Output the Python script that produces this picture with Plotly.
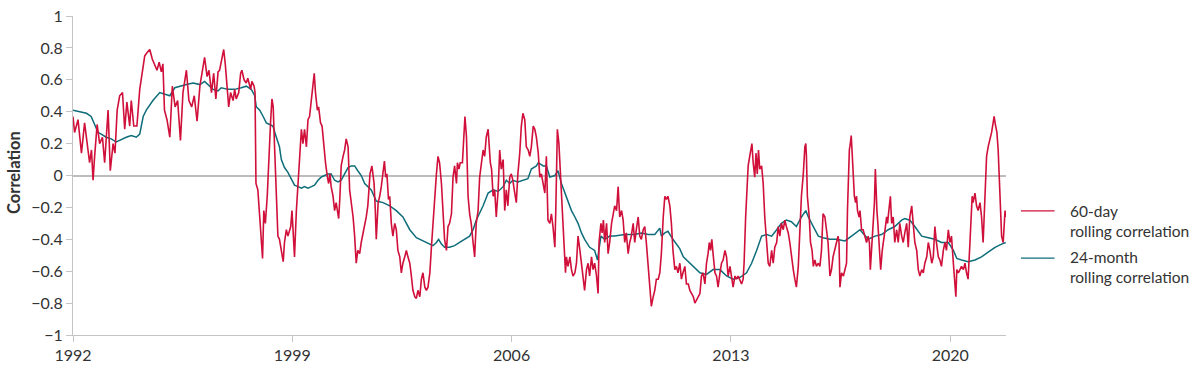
import plotly.graph_objects as go

# 60-day rolling correlation (decimal year, correlation)
red_year = [
    1992.00, 1992.05, 1992.16, 1992.27, 1992.37, 1992.45, 1992.53, 1992.59, 1992.64, 1992.69,
    1992.77, 1992.85, 1992.94, 1993.01, 1993.12, 1993.19, 1993.28, 1993.34, 1993.41, 1993.49,
    1993.58, 1993.65, 1993.72, 1993.81, 1993.86, 1993.94, 1994.04, 1994.13, 1994.21, 1994.29,
    1994.36, 1994.45, 1994.53, 1994.61, 1994.68, 1994.75, 1994.82, 1994.87, 1994.92, 1995.00,
    1995.09, 1995.17, 1995.26, 1995.34, 1995.43, 1995.51, 1995.62, 1995.70, 1995.79, 1995.87,
    1995.96, 1996.05, 1996.13, 1996.20, 1996.28, 1996.34, 1996.42, 1996.49, 1996.56, 1996.63,
    1996.68, 1996.75, 1996.81, 1996.86, 1996.92, 1996.97, 1997.03, 1997.11, 1997.16, 1997.21,
    1997.29, 1997.35, 1997.39, 1997.46, 1997.53, 1997.58, 1997.67, 1997.71, 1997.78, 1997.81,
    1997.84, 1997.90, 1997.96, 1998.01, 1998.05, 1998.09, 1998.14, 1998.20, 1998.25, 1998.31,
    1998.35, 1998.39, 1998.43, 1998.49, 1998.54, 1998.59, 1998.65, 1998.71, 1998.75, 1998.81,
    1998.86, 1998.95, 1998.99, 1999.03, 1999.07, 1999.13, 1999.18, 1999.23, 1999.29, 1999.34,
    1999.39, 1999.45, 1999.50, 1999.55, 1999.61, 1999.66, 1999.70, 1999.74, 1999.80, 1999.84,
    1999.90, 1999.95, 2000.01, 2000.06, 2000.12, 2000.16, 2000.20, 2000.24, 2000.30, 2000.35,
    2000.40, 2000.48, 2000.52, 2000.56, 2000.62, 2000.67, 2000.72, 2000.78, 2000.83, 2000.88,
    2000.94, 2000.99, 2001.04, 2001.09, 2001.15, 2001.20, 2001.29, 2001.36, 2001.41, 2001.48,
    2001.54, 2001.61, 2001.65, 2001.68, 2001.74, 2001.79, 2001.84, 2001.90, 2001.94, 2001.98,
    2002.02, 2002.07, 2002.11, 2002.16, 2002.21, 2002.27, 2002.32, 2002.37, 2002.43, 2002.48,
    2002.53, 2002.59, 2002.64, 2002.69, 2002.75, 2002.80, 2002.85, 2002.91, 2002.96, 2003.01,
    2003.07, 2003.12, 2003.17, 2003.23, 2003.28, 2003.33, 2003.39, 2003.44, 2003.49, 2003.54,
    2003.60, 2003.65, 2003.70, 2003.76, 2003.81, 2003.86, 2003.92, 2003.97, 2004.02, 2004.08,
    2004.13, 2004.18, 2004.24, 2004.27, 2004.32, 2004.36, 2004.43, 2004.48, 2004.51, 2004.56,
    2004.61, 2004.66, 2004.71, 2004.77, 2004.82, 2004.87, 2004.93, 2004.98, 2005.03, 2005.09,
    2005.14, 2005.19, 2005.25, 2005.28, 2005.32, 2005.36, 2005.41, 2005.46, 2005.51, 2005.57,
    2005.62, 2005.67, 2005.73, 2005.78, 2005.83, 2005.88, 2005.94, 2005.99, 2006.04, 2006.10,
    2006.15, 2006.20, 2006.26, 2006.31, 2006.36, 2006.42, 2006.47, 2006.53, 2006.58, 2006.63,
    2006.69, 2006.74, 2006.79, 2006.85, 2006.90, 2006.95, 2007.01, 2007.06, 2007.11, 2007.16,
    2007.22, 2007.27, 2007.32, 2007.38, 2007.41, 2007.44, 2007.46, 2007.51, 2007.55, 2007.59,
    2007.64, 2007.68, 2007.72, 2007.75, 2007.80, 2007.86, 2007.91, 2007.96, 2008.02, 2008.07,
    2008.12, 2008.18, 2008.23, 2008.28, 2008.33, 2008.39, 2008.44, 2008.49, 2008.55, 2008.60,
    2008.65, 2008.71, 2008.76, 2008.79, 2008.85, 2008.89, 2008.93, 2008.97, 2009.03, 2009.08,
    2009.13, 2009.19, 2009.24, 2009.29, 2009.35, 2009.40, 2009.45, 2009.51, 2009.56, 2009.61,
    2009.66, 2009.72, 2009.77, 2009.82, 2009.88, 2009.93, 2009.98, 2010.04, 2010.09, 2010.14,
    2010.20, 2010.25, 2010.30, 2010.36, 2010.41, 2010.46, 2010.52, 2010.57, 2010.62, 2010.68,
    2010.73, 2010.78, 2010.84, 2010.89, 2010.94, 2010.99, 2011.05, 2011.10, 2011.15, 2011.21,
    2011.26, 2011.31, 2011.37, 2011.42, 2011.47, 2011.53, 2011.58, 2011.64, 2011.69, 2011.74,
    2011.80, 2011.85, 2011.90, 2011.96, 2012.01, 2012.06, 2012.11, 2012.17, 2012.22, 2012.27,
    2012.31, 2012.35, 2012.39, 2012.43, 2012.49, 2012.54, 2012.59, 2012.65, 2012.70, 2012.75,
    2012.81, 2012.86, 2012.91, 2012.97, 2013.02, 2013.07, 2013.13, 2013.18, 2013.23, 2013.28,
    2013.34, 2013.39, 2013.42, 2013.47, 2013.50, 2013.55, 2013.60, 2013.64, 2013.67, 2013.71,
    2013.76, 2013.80, 2013.84, 2013.88, 2013.92, 2013.98, 2014.03, 2014.08, 2014.14, 2014.19,
    2014.24, 2014.30, 2014.35, 2014.40, 2014.46, 2014.51, 2014.56, 2014.61, 2014.67, 2014.72,
    2014.77, 2014.83, 2014.88, 2014.93, 2014.99, 2015.04, 2015.09, 2015.15, 2015.20, 2015.25,
    2015.31, 2015.36, 2015.39, 2015.41, 2015.44, 2015.50, 2015.54, 2015.59, 2015.63, 2015.68,
    2015.73, 2015.79, 2015.84, 2015.89, 2015.94, 2016.00, 2016.05, 2016.10, 2016.16, 2016.21,
    2016.26, 2016.32, 2016.37, 2016.42, 2016.45, 2016.48, 2016.53, 2016.59, 2016.64, 2016.69,
    2016.72, 2016.75, 2016.78, 2016.81, 2016.84, 2016.87, 2016.91, 2016.94, 2016.98, 2017.01,
    2017.04, 2017.09, 2017.12, 2017.15, 2017.17, 2017.22, 2017.28, 2017.33, 2017.38, 2017.42,
    2017.45, 2017.49, 2017.54, 2017.58, 2017.61, 2017.63, 2017.66, 2017.69, 2017.73, 2017.78,
    2017.83, 2017.87, 2017.92, 2017.97, 2018.00, 2018.04, 2018.09, 2018.13, 2018.18, 2018.23,
    2018.29, 2018.34, 2018.39, 2018.45, 2018.50, 2018.55, 2018.61, 2018.66, 2018.71, 2018.77,
    2018.80, 2018.83, 2018.87, 2018.93, 2018.98, 2019.03, 2019.09, 2019.14, 2019.19, 2019.25,
    2019.30, 2019.35, 2019.41, 2019.46, 2019.51, 2019.56, 2019.62, 2019.67, 2019.72, 2019.78,
    2019.83, 2019.88, 2019.94, 2019.99, 2020.04, 2020.10, 2020.15, 2020.18, 2020.21, 2020.26,
    2020.31, 2020.36, 2020.42, 2020.47, 2020.52, 2020.57, 2020.63, 2020.66, 2020.70, 2020.73,
    2020.79, 2020.84, 2020.89, 2020.95, 2021.00, 2021.05, 2021.09, 2021.13, 2021.16, 2021.21,
    2021.27, 2021.32, 2021.37, 2021.40, 2021.45, 2021.49, 2021.53, 2021.57, 2021.60, 2021.64,
    2021.69, 2021.72, 2021.75, 2021.77,
]
red_val = [
    0.37, 0.27, 0.35, 0.14, 0.33, 0.20, 0.08, 0.16, -0.03, 0.12,
    0.32, 0.20, 0.24, 0.08, 0.41, 0.03, 0.20, 0.14, 0.41, 0.50,
    0.52, 0.29, 0.46, 0.31, 0.47, 0.31, 0.31, 0.54, 0.66, 0.75,
    0.77, 0.79, 0.73, 0.69, 0.66, 0.71, 0.65, 0.70, 0.41, 0.35,
    0.24, 0.56, 0.43, 0.47, 0.22, 0.52, 0.66, 0.47, 0.43, 0.50,
    0.34, 0.56, 0.66, 0.74, 0.62, 0.66, 0.52, 0.64, 0.48, 0.65,
    0.66, 0.73, 0.79, 0.70, 0.52, 0.43, 0.52, 0.47, 0.54, 0.48,
    0.52, 0.64, 0.66, 0.60, 0.58, 0.61, 0.54, 0.59, 0.56, 0.52,
    -0.05, -0.09, -0.26, -0.42, -0.52, -0.22, -0.30, -0.13, 0.12, 0.35,
    0.48, 0.43, 0.20, -0.07, -0.38, -0.40, -0.47, -0.54, -0.42, -0.34,
    -0.38, -0.32, -0.22, -0.34, -0.51, -0.22, -0.05, 0.12, 0.29, 0.20,
    0.29, 0.18, 0.35, 0.37, 0.47, 0.58, 0.64, 0.52, 0.41, 0.43,
    0.33, 0.31, 0.16, 0.08, -0.01, -0.05, 0.01, -0.07, -0.13, -0.22,
    -0.17, -0.27, -0.13, 0.06, 0.12, 0.16, 0.23, 0.18, -0.09, -0.17,
    -0.26, -0.38, -0.55, -0.47, -0.49, -0.42, -0.34, -0.26, -0.19, 0.01,
    0.06, -0.05, -0.22, -0.40, -0.17, -0.13, -0.07, 0.01, 0.09, -0.01,
    0.01, -0.15, -0.13, -0.30, -0.38, -0.30, -0.34, -0.47, -0.51, -0.61,
    -0.55, -0.51, -0.47, -0.51, -0.55, -0.63, -0.72, -0.76, -0.77, -0.72,
    -0.76, -0.65, -0.61, -0.70, -0.72, -0.70, -0.61, -0.45, -0.30, -0.13,
    0.01, 0.12, 0.08, -0.05, -0.22, -0.40, -0.47, -0.32, -0.30, -0.24,
    -0.01, 0.06, -0.05, 0.08, 0.04, 0.08, 0.08, 0.24, 0.37, 0.24,
    -0.13, -0.24, -0.30, -0.42, -0.51, -0.30, -0.22, -0.01, 0.08, 0.16,
    0.12, 0.24, 0.29, 0.18, 0.08, 0.04, -0.13, -0.09, -0.26, -0.09,
    0.16, 0.04, 0.10, -0.22, -0.09, -0.19, -0.01, 0.01, -0.03, -0.11,
    -0.17, 0.01, 0.14, 0.31, 0.39, 0.35, 0.18, 0.16, 0.12, 0.18,
    0.31, 0.29, 0.24, 0.14, -0.01, 0.01, -0.07, -0.11, 0.12, -0.28,
    -0.30, -0.24, -0.32, -0.45, -0.22, 0.14, 0.29, 0.20, 0.04, -0.17,
    -0.32, -0.53, -0.61, -0.51, -0.57, -0.51, -0.59, -0.63, -0.61, -0.55,
    -0.38, -0.47, -0.55, -0.61, -0.72, -0.59, -0.55, -0.63, -0.51, -0.59,
    -0.55, -0.63, -0.74, -0.42, -0.30, -0.36, -0.28, -0.42, -0.30, -0.49,
    -0.42, -0.30, -0.24, -0.19, -0.22, -0.07, -0.26, -0.22, -0.28, -0.42,
    -0.36, -0.49, -0.42, -0.38, -0.30, -0.42, -0.34, -0.26, -0.38, -0.40,
    -0.34, -0.32, -0.42, -0.59, -0.74, -0.82, -0.76, -0.72, -0.65, -0.65,
    -0.61, -0.49, -0.26, -0.13, -0.15, -0.13, -0.19, -0.30, -0.47, -0.59,
    -0.57, -0.61, -0.55, -0.65, -0.61, -0.57, -0.68, -0.68, -0.72, -0.74,
    -0.76, -0.80, -0.78, -0.76, -0.74, -0.63, -0.61, -0.68, -0.55, -0.49,
    -0.42, -0.47, -0.40, -0.49, -0.61, -0.63, -0.70, -0.61, -0.55, -0.53,
    -0.47, -0.51, -0.63, -0.57, -0.65, -0.70, -0.63, -0.65, -0.63, -0.65,
    -0.68, -0.65, -0.55, -0.26, -0.11, 0.06, 0.12, 0.18, 0.20, 0.08,
    -0.01, 0.14, 0.01, 0.16, 0.04, 0.06, -0.05, -0.26, -0.40, -0.55,
    -0.57, -0.47, -0.55, -0.45, -0.42, -0.32, -0.38, -0.30, -0.34, -0.28,
    -0.32, -0.36, -0.42, -0.51, -0.59, -0.65, -0.70, -0.57, -0.36, -0.13,
    0.01, 0.18, 0.20, 0.12, -0.13, -0.26, -0.42, -0.47, -0.57, -0.53,
    -0.57, -0.55, -0.57, -0.47, -0.24, -0.26, -0.34, -0.42, -0.63, -0.59,
    -0.51, -0.47, -0.42, -0.38, -0.42, -0.70, -0.61, -0.63, -0.59, -0.55,
    -0.22, 0.08, 0.16, 0.20, 0.25, 0.14, -0.05, -0.13, -0.17, -0.13,
    -0.22, -0.26, -0.22, -0.30, -0.34, -0.34, -0.38, -0.42, -0.38, -0.42,
    -0.59, -0.47, -0.26, -0.17, 0.04, -0.13, -0.22, -0.30, -0.42, -0.59,
    -0.47, -0.42, -0.34, -0.26, -0.30, -0.22, -0.13, -0.30, -0.26, -0.42,
    -0.34, -0.42, -0.30, -0.38, -0.42, -0.36, -0.30, -0.45, -0.26, -0.19,
    -0.26, -0.30, -0.42, -0.47, -0.59, -0.63, -0.59, -0.61, -0.55, -0.51,
    -0.42, -0.47, -0.55, -0.51, -0.32, -0.42, -0.51, -0.53, -0.57, -0.47,
    -0.42, -0.47, -0.34, -0.42, -0.38, -0.55, -0.68, -0.76, -0.59, -0.61,
    -0.59, -0.57, -0.59, -0.55, -0.61, -0.65, -0.42, -0.30, -0.13, -0.17,
    -0.11, -0.19, -0.22, -0.17, -0.26, -0.42, -0.22, 0.04, 0.12, 0.18,
    0.22, 0.27, 0.33, 0.37, 0.31, 0.27, 0.16, -0.05, -0.22, -0.38,
    -0.42, -0.30, -0.22, -0.26,
]

# 24-month rolling correlation (decimal year, correlation)
teal_year = [
    1992.00, 1992.21, 1992.43, 1992.58, 1992.69, 1992.80, 1992.90, 1993.06, 1993.22, 1993.38,
    1993.49, 1993.70, 1993.86, 1994.02, 1994.13, 1994.24, 1994.34, 1994.55, 1994.77, 1994.92,
    1995.09, 1995.25, 1995.41, 1995.62, 1995.83, 1996.05, 1996.20, 1996.31, 1996.47, 1996.63,
    1996.73, 1996.95, 1997.16, 1997.37, 1997.53, 1997.69, 1997.80, 1997.85, 1997.96, 1998.07,
    1998.17, 1998.28, 1998.38, 1998.49, 1998.59, 1998.65, 1998.75, 1998.86, 1998.97, 1999.07,
    1999.18, 1999.29, 1999.39, 1999.50, 1999.61, 1999.71, 1999.82, 1999.92, 2000.03, 2000.14,
    2000.24, 2000.35, 2000.46, 2000.56, 2000.67, 2000.78, 2000.88, 2000.99, 2001.09, 2001.20,
    2001.31, 2001.41, 2001.52, 2001.68, 2001.90, 2002.11, 2002.32, 2002.53, 2002.75, 2002.96,
    2003.17, 2003.39, 2003.49, 2003.60, 2003.67, 2003.76, 2003.86, 2004.02, 2004.18, 2004.34,
    2004.50, 2004.66, 2004.77, 2004.87, 2005.09, 2005.25, 2005.41, 2005.57, 2005.73, 2005.83,
    2005.94, 2006.04, 2006.20, 2006.36, 2006.52, 2006.63, 2006.79, 2006.85, 2007.01, 2007.11,
    2007.22, 2007.38, 2007.48, 2007.59, 2007.70, 2007.80, 2007.91, 2008.02, 2008.12, 2008.23,
    2008.33, 2008.49, 2008.65, 2008.74, 2008.85, 2008.97, 2009.13, 2009.29, 2009.61, 2009.93,
    2010.14, 2010.36, 2010.57, 2010.73, 2010.78, 2010.89, 2010.99, 2011.15, 2011.26, 2011.37,
    2011.48, 2011.58, 2011.80, 2012.01, 2012.22, 2012.43, 2012.65, 2012.86, 2013.07, 2013.28,
    2013.50, 2013.66, 2013.82, 2013.98, 2014.14, 2014.30, 2014.46, 2014.61, 2014.77, 2014.93,
    2015.09, 2015.25, 2015.39, 2015.47, 2015.63, 2015.79, 2015.94, 2016.16, 2016.37, 2016.64,
    2016.85, 2017.12, 2017.38, 2017.60, 2017.81, 2018.02, 2018.23, 2018.45, 2018.55, 2018.71,
    2018.87, 2019.09, 2019.30, 2019.51, 2019.72, 2019.94, 2020.10, 2020.21, 2020.36, 2020.57,
    2020.79, 2021.00, 2021.21, 2021.43, 2021.64, 2021.77,
]
teal_val = [
    0.41, 0.40, 0.39, 0.37, 0.32, 0.27, 0.26, 0.24, 0.23, 0.21,
    0.22, 0.24, 0.25, 0.24, 0.26, 0.37, 0.41, 0.47, 0.52, 0.51,
    0.50, 0.55, 0.56, 0.57, 0.58, 0.57, 0.59, 0.57, 0.54, 0.53,
    0.55, 0.54, 0.54, 0.55, 0.56, 0.54, 0.50, 0.43, 0.41, 0.37,
    0.33, 0.32, 0.31, 0.24, 0.18, 0.10, 0.05, 0.02, -0.02, -0.06,
    -0.07, -0.08, -0.07, -0.08, -0.07, -0.06, -0.03, -0.01, 0.00, 0.01,
    0.01, -0.03, -0.04, -0.03, 0.01, 0.05, 0.06, 0.06, 0.03, 0.00,
    -0.05, -0.07, -0.09, -0.16, -0.17, -0.19, -0.22, -0.26, -0.34, -0.39,
    -0.41, -0.43, -0.44, -0.42, -0.40, -0.43, -0.45, -0.45, -0.44, -0.42,
    -0.40, -0.38, -0.34, -0.28, -0.19, -0.11, -0.09, -0.10, -0.07, -0.03,
    -0.05, -0.03, -0.04, -0.03, -0.02, 0.04, 0.06, 0.08, 0.06, 0.06,
    -0.01, 0.00, 0.03, -0.05, -0.11, -0.17, -0.22, -0.26, -0.30, -0.36,
    -0.40, -0.45, -0.47, -0.53, -0.38, -0.40, -0.38, -0.38, -0.37, -0.37,
    -0.36, -0.37, -0.37, -0.33, -0.38, -0.36, -0.35, -0.40, -0.43, -0.46,
    -0.51, -0.53, -0.57, -0.61, -0.62, -0.59, -0.59, -0.63, -0.65, -0.64,
    -0.61, -0.55, -0.47, -0.38, -0.37, -0.38, -0.34, -0.30, -0.28, -0.29,
    -0.32, -0.26, -0.22, -0.26, -0.32, -0.38, -0.39, -0.40, -0.40, -0.41,
    -0.38, -0.34, -0.40, -0.38, -0.37, -0.34, -0.32, -0.28, -0.27, -0.28,
    -0.32, -0.38, -0.39, -0.40, -0.42, -0.42, -0.47, -0.52, -0.53, -0.54,
    -0.53, -0.51, -0.48, -0.45, -0.43, -0.42,
]

x_ticks = [1992, 1999, 2006, 2013, 2020]
y_ticks = [1, 0.8, 0.6, 0.4, 0.2, 0, -0.2, -0.4, -0.6, -0.8, -1]
y_ticktext = [("−" + f"{abs(v):g}") if v < 0 else f"{v:g}" for v in y_ticks]

RED = "#d0103a"
TEAL = "#0e6d7a"
TEXT = "#333333"
AXIS = "#c4c4c4"
FONT = "Lato, 'Open Sans', sans-serif"

fig = go.Figure()
fig.add_trace(go.Scatter(x=teal_year, y=teal_val, mode="lines",
                         line=dict(color=TEAL, width=1.5), showlegend=False))
fig.add_trace(go.Scatter(x=red_year, y=red_val, mode="lines",
                         line=dict(color=RED, width=1.6), showlegend=False))

fig.update_layout(
    width=1200, height=375,
    margin=dict(l=73, r=194, t=16, b=40),
    paper_bgcolor="white", plot_bgcolor="white",
    font=dict(family=FONT, size=16, color=TEXT),
    xaxis=dict(range=[1992, 2021.78], tickvals=x_ticks, ticktext=[str(v) for v in x_ticks],
               automargin=False,
               showgrid=False, zeroline=False, showline=True, linecolor=AXIS, linewidth=1,
               ticks="outside", ticklen=6, tickcolor=AXIS, tickfont=dict(size=16, color=TEXT)),
    yaxis=dict(range=[-1, 1], tickvals=y_ticks, ticktext=y_ticktext,
               automargin=False,
               showgrid=False, zeroline=True, zerolinecolor="#bdbdbd", zerolinewidth=1.5,
               showline=True, linecolor=AXIS, linewidth=1,
               ticks="outside", ticklen=6, tickcolor=AXIS, tickfont=dict(size=16, color=TEXT)),
)

# Y-axis title
fig.add_annotation(xref="paper", yref="paper", x=-0.0625, y=0.51, text="<b>Correlation</b>",
                   textangle=-90, showarrow=False, font=dict(size=16.5, color=TEXT),
                   xanchor="center", yanchor="middle")

# Legend (manual)
legend_items = [("60-day<br>rolling correlation", RED, 0.389, 0.356),
                ("24-month<br>rolling correlation", TEAL, 0.241, 0.212)]
for label, color, ly, ty in legend_items:
    fig.add_shape(type="line", xref="paper", yref="paper", x0=1.016, x1=1.052, y0=ly, y1=ly,
                  line=dict(color=color, width=1.2))
    fig.add_annotation(xref="paper", yref="paper", x=1.0665, y=ty, text=label, showarrow=False,
                       align="left", xanchor="left", yanchor="middle",
                       font=dict(size=15.5, color=TEXT))

fig.write_html("out.html", config={"displayModeBar": False},
               post_script="document.body.style.margin='0px';document.body.style.overflow='hidden';")
